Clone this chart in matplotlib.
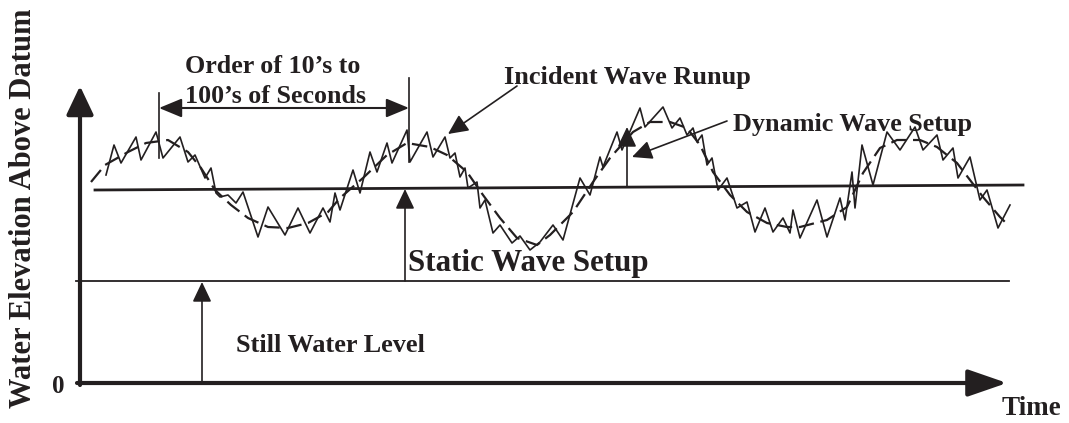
import matplotlib.pyplot as plt

# elevation above datum (0 = datum) against time, both in the picture's own units
setup_t = [91, 105, 128, 146, 168, 188, 201, 215, 231, 248, 268, 288, 308, 328,
           340, 363, 387, 407, 430, 447, 467, 483, 500, 517, 537, 550, 573, 593,
           610, 633, 650, 670, 687, 700, 713, 730, 747, 767, 787, 800, 827, 847,
           863, 880, 897, 920, 937, 957, 970, 983, 1000, 1008]
setup_y = [201, 218, 231, 240, 243, 231, 215, 193, 178, 165, 156, 155, 160, 171,
           185, 205, 228, 240, 236, 228, 211, 188, 165, 145, 138, 148, 171, 201,
           225, 251, 261, 261, 255, 238, 211, 188, 171, 160, 156, 156, 163, 176,
           210, 235, 243, 243, 236, 220, 203, 186, 166, 158]

runup_t = [106, 114, 121, 136, 141, 156, 163, 180, 188, 195, 205, 211, 216, 220,
           228, 236, 243, 258, 268, 285, 298, 310, 323, 330, 335, 340, 353, 360,
           370, 377, 387, 392, 407, 410, 427, 433, 445, 450, 455, 460, 465, 468,
           477, 480, 485, 493, 500, 512, 520, 530, 540, 553, 563, 580, 590, 600,
           603, 617, 622, 640, 645, 663, 672, 680, 687, 693, 697, 702, 707, 712,
           718, 727, 737, 747, 755, 765, 773, 783, 790, 793, 800, 817, 827, 840,
           845, 852, 855, 862, 873, 887, 900, 915, 923, 937, 943, 953, 958, 970,
           980, 987, 998, 1010]
runup_y = [208, 238, 220, 246, 223, 251, 225, 246, 221, 228, 205, 215, 190, 186,
           188, 180, 191, 146, 176, 148, 175, 150, 175, 161, 190, 173, 213, 190,
           231, 211, 240, 220, 253, 221, 251, 226, 246, 225, 230, 206, 215, 195,
           201, 175, 183, 150, 158, 140, 147, 133, 141, 158, 143, 205, 188, 226,
           216, 251, 233, 275, 256, 276, 255, 265, 248, 255, 241, 248, 218, 225,
           193, 205, 175, 181, 151, 175, 151, 165, 150, 173, 145, 183, 146, 185,
           163, 211, 175, 238, 198, 251, 233, 256, 233, 248, 223, 235, 205, 226,
           183, 193, 155, 178]

still_water = 102
static_setup = [193, 198]   # slightly tilted in the scan
period = [159, 409]

ink = "#231f20"
serif = ["Liberation Serif", "DejaVu Serif"]

fig = plt.figure(figsize=(10.69, 4.23), dpi=100)
ax = fig.add_axes([0, 0, 1, 1])
ax.set_xlim(0, 1069)
ax.set_ylim(-40, 383)
ax.axis("off")

# still water level and static setup lines
ax.plot([76, 1009], [still_water, still_water], color=ink, lw=1.3)
ax.plot([95, 1023], static_setup, color=ink, lw=2.0)

# setup (dashed) and runup (wiggly) records
ax.plot(setup_t, setup_y, color=ink, lw=1.6, dashes=(7, 3))
ax.plot(runup_t, runup_y, color=ink, lw=1.2, solid_joinstyle="round")


def arrow(x0, y0, x1, y1, hl=1.22, hw=0.58, lw=1.2, style="-|>"):
    ax.annotate("", xy=(x1, y1), xytext=(x0, y0),
                arrowprops=dict(arrowstyle=f"{style},head_length={hl},head_width={hw}",
                                color=ink, lw=lw, mutation_scale=10,
                                shrinkA=0, shrinkB=0))


# axes
arrow(80, -2, 80, 297, hl=1.75, hw=0.83, lw=3)
arrow(77, 0, 1007, 0, hl=2.4, hw=0.83, lw=3)

# still water level and static setup arrows
arrow(202, 0, 202, still_water - 1)
arrow(405, still_water, 405, 194)

# dynamic setup arrows
arrow(627, 196, 627, 256)
arrow(727, 262, 632, 226)

# incident wave runup arrow
arrow(517, 297, 448, 249)

# period bracket
ax.plot([period[0], period[0]], [225, 290], color=ink, lw=1.2)
ax.plot([period[1], period[1]], [221, 305], color=ink, lw=1.2)
arrow(period[0], 275, period[1], 275, hl=1.4, hw=0.58, lw=1.5, style="<|-|>")

txt = dict(family=serif, weight="bold", color=ink, va="center")
ax.text(185, 317, "Order of 10\u2019s to", fontsize=18.7, ha="left", **txt)
ax.text(185, 287, "100\u2019s of Seconds", fontsize=18.7, ha="left", **txt)
ax.text(504, 306, "Incident Wave Runup", fontsize=19, ha="left", **txt)
ax.text(733, 259, "Dynamic Wave Setup", fontsize=18.8, ha="left", **txt)
ax.text(408, 120, "Static Wave Setup", fontsize=22.3, ha="left", **txt)
ax.text(236, 38, "Still Water Level", fontsize=18.9, ha="left", **txt)
ax.text(58, -3, "0", fontsize=18, ha="center", **txt)
ax.text(1031, -25, "Time", fontsize=19.5, ha="center", **txt)
ax.text(24, 175, "Water Elevation Above Datum", fontsize=22, rotation=90,
        ha="center", **txt)

fig.savefig("out.png", dpi=100)
